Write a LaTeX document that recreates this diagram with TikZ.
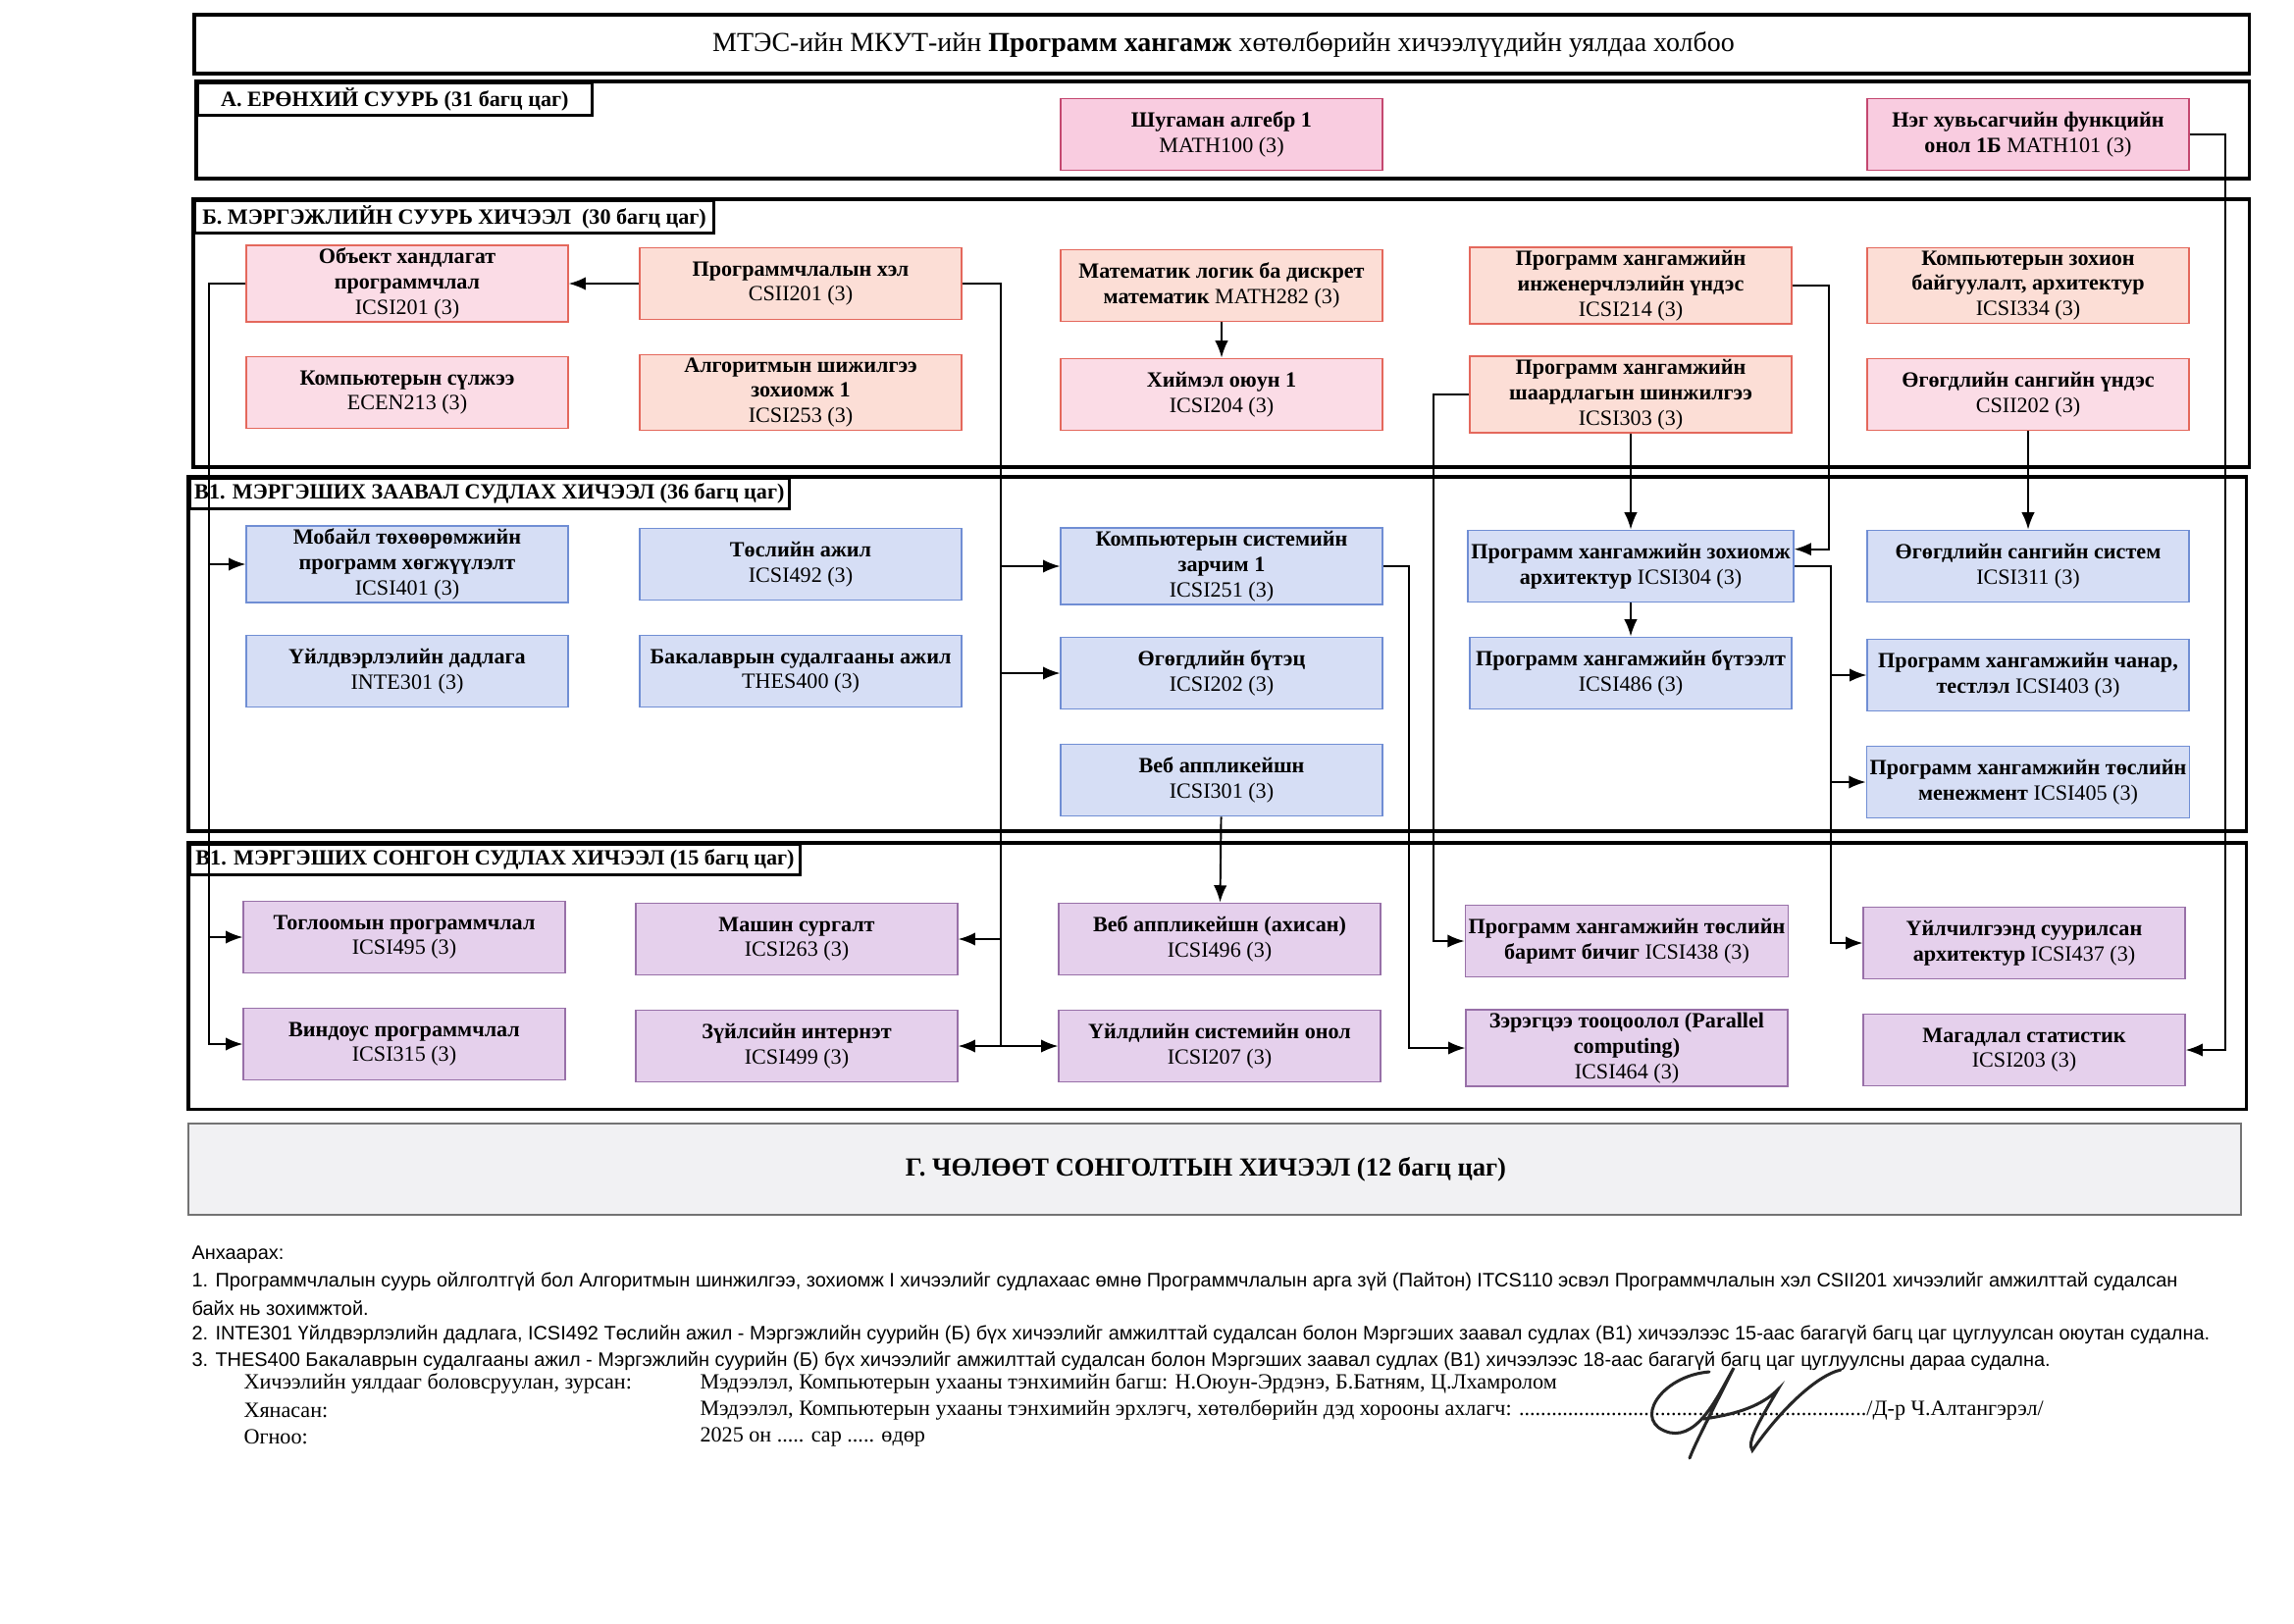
\documentclass[tikz,border=0pt]{standalone}
\usepackage{fontspec}
\setmainfont{Liberation Serif}
\newfontfamily\notefont{Liberation Sans}
\usepackage{xcolor}
\usetikzlibrary{arrows.meta,positioning,calc}
\tikzset{>={Latex[length=2.2mm,width=1.7mm]}}
\definecolor{apink}{RGB}{249,204,224}
\definecolor{aline}{RGB}{196,72,112}
\definecolor{bpink}{RGB}{251,220,230}
\definecolor{bpeach}{RGB}{252,222,214}
\definecolor{bline}{RGB}{228,104,92}
\definecolor{vblue}{RGB}{214,222,245}
\definecolor{vline}{RGB}{112,142,212}
\definecolor{slila}{RGB}{229,208,236}
\definecolor{sline}{RGB}{152,112,168}
\definecolor{ggray}{RGB}{241,241,243}
\tikzset{
  course/.style={draw, line width=0.6pt, minimum width=41.6mm, minimum height=9.3mm,
    inner sep=0.4mm, align=center, font=\fontsize{8}{9.3}\selectfont},
  acourse/.style={course, fill=apink, draw=aline},
  bcourse/.style={course, fill=bpink, draw=bline},
  bcourseo/.style={course, fill=bpeach, draw=bline},
  vcourse/.style={course, fill=vblue, draw=vline},
  scourse/.style={course, fill=slila, draw=sline},
  secframe/.style={draw, line width=1.1pt},
  gframe/.style={draw=black!55, fill=ggray, line width=0.8pt},
  seclabel/.style={draw, line width=1.1pt, fill=white, anchor=north west, minimum height=3.9mm,
    inner sep=0.6mm, font=\bfseries\fontsize{8}{10}\selectfont},
  link/.style={->, line width=0.7pt},
  noteline/.style={anchor=west, inner sep=0pt, font=\notefont\fontsize{7.2}{8}\selectfont},
  signline/.style={anchor=west, inner sep=0pt, font=\fontsize{8}{9}\selectfont},
  sigpen/.style={line width=1.1pt, black!85, line cap=round},
}

\begin{document}
\begin{tikzpicture}[x=0.127mm,y=-0.127mm]
\useasboundingbox[fill=white] (0,0) rectangle (2338,1654);

% frames
\draw[secframe] (198,15) rectangle (2292,75);
\node[font=\fontsize{10.1}{12}\selectfont] (title) at (1247,46) {МТЭС-ийн МКУТ-ийн \textbf{Программ хангамж} хөтөлбөрийн хичээлүүдийн уялдаа холбоо};

\draw[secframe] (200,83) rectangle (2292,182);
\node[seclabel, minimum width=51mm] (labA) at (200,83) {А. ЕРӨНХИЙ СУУРЬ (31 багц цаг)};
\draw[secframe] (197,203) rectangle (2292,476);
\node[seclabel, minimum width=67.2mm] (labB) at (197,203) {Б. МЭРГЭЖЛИЙН СУУРЬ ХИЧЭЭЛ\ \ (30 багц цаг)};
\draw[secframe] (192,486) rectangle (2289,847);
\node[seclabel, minimum width=77mm] (labV) at (192,486) {В1. МЭРГЭШИХ ЗААВАЛ СУДЛАХ ХИЧЭЭЛ (36 багц цаг)};
\draw[secframe] (192,859) rectangle (2289,1130);
\node[seclabel, minimum width=79mm] (labS) at (192,859) {В1. МЭРГЭШИХ СОНГОН СУДЛАХ ХИЧЭЭЛ (15 багц цаг)};
\draw[gframe] (192,1145) rectangle (2284,1238);
\node[font=\bfseries\fontsize{9.6}{12}\selectfont] (labG) at (1229,1192) {Г. ЧӨЛӨӨТ СОНГОЛТЫН ХИЧЭЭЛ (12 багц цаг)};

% A
\node[acourse] (math100) at (1245,137) {\textbf{Шугаман алгебр 1}\\MATH100 (3)};
\node[acourse] (math101) at (2067,137) {\textbf{Нэг хувьсагчийн функцийн}\\\textbf{онол 1Б} MATH101 (3)};

% B
\node[bcourse] (icsi201) at (415,289) {\textbf{Объект хандлагат}\\\textbf{программчлал}\\ICSI201 (3)};
\node[bcourseo] (csii201) at (816,289) {\textbf{Программчлалын хэл}\\CSII201 (3)};
\node[bcourseo] (math282) at (1245,291) {\textbf{Математик логик ба дискрет}\\\textbf{математик} MATH282 (3)};
\node[bcourseo] (icsi214) at (1662,291) {\textbf{Программ хангамжийн}\\\textbf{инженерчлэлийн үндэс}\\ICSI214 (3)};
\node[bcourseo] (icsi334) at (2067,291) {\textbf{Компьютерын зохион}\\\textbf{байгуулалт, архитектур}\\ICSI334 (3)};
\node[bcourse] (ecen213) at (415,400) {\textbf{Компьютерын сүлжээ}\\ECEN213 (3)};
\node[bcourseo] (icsi253) at (816,400) {\textbf{Алгоритмын шижилгээ}\\\textbf{зохиомж 1}\\ICSI253 (3)};
\node[bcourse] (icsi204) at (1245,402) {\textbf{Хиймэл оюун 1}\\ICSI204 (3)};
\node[bcourseo] (icsi303) at (1662,402) {\textbf{Программ хангамжийн}\\\textbf{шаардлагын шинжилгээ}\\ICSI303 (3)};
\node[bcourse] (csii202) at (2067,402) {\textbf{Өгөгдлийн сангийн үндэс}\\CSII202 (3)};

% B1 compulsory
\node[vcourse] (icsi401) at (415,575) {\textbf{Мобайл төхөөрөмжийн}\\\textbf{программ хөгжүүлэлт}\\ICSI401 (3)};
\node[vcourse] (icsi492) at (816,575) {\textbf{Төслийн ажил}\\ICSI492 (3)};
\node[vcourse] (icsi251) at (1245,577) {\textbf{Компьютерын системийн}\\\textbf{зарчим 1}\\ICSI251 (3)};
\node[vcourse] (icsi304) at (1662,577) {\textbf{Программ хангамжийн зохиомж}\\\textbf{архитектур} ICSI304 (3)};
\node[vcourse] (icsi311) at (2067,577) {\textbf{Өгөгдлийн сангийн систем}\\ICSI311 (3)};
\node[vcourse] (inte301) at (415,684) {\textbf{Үйлдвэрлэлийн дадлага}\\INTE301 (3)};
\node[vcourse] (thes400) at (816,684) {\textbf{Бакалаврын судалгааны ажил}\\THES400 (3)};
\node[vcourse] (icsi202) at (1245,686) {\textbf{Өгөгдлийн бүтэц}\\ICSI202 (3)};
\node[vcourse] (icsi486) at (1662,686) {\textbf{Программ хангамжийн бүтээлт}\\ICSI486 (3)};
\node[vcourse] (icsi403) at (2067,688) {\textbf{Программ хангамжийн чанар,}\\\textbf{тестлэл} ICSI403 (3)};
\node[vcourse] (icsi301) at (1245,795) {\textbf{Веб аппликейшн}\\ICSI301 (3)};
\node[vcourse] (icsi405) at (2067,797) {\textbf{Программ хангамжийн төслийн}\\\textbf{менежмент} ICSI405 (3)};

% B1 elective
\node[scourse] (icsi495) at (412,955) {\textbf{Тоглоомын программчлал}\\ICSI495 (3)};
\node[scourse] (icsi263) at (812,957) {\textbf{Машин сургалт}\\ICSI263 (3)};
\node[scourse] (icsi496) at (1243,957) {\textbf{Веб аппликейшн (ахисан)}\\ICSI496 (3)};
\node[scourse] (icsi438) at (1658,959) {\textbf{Программ хангамжийн төслийн}\\\textbf{баримт бичиг} ICSI438 (3)};
\node[scourse] (icsi437) at (2063,961) {\textbf{Үйлчилгээнд суурилсан}\\\textbf{архитектур} ICSI437 (3)};
\node[scourse] (icsi315) at (412,1064) {\textbf{Виндоус программчлал}\\ICSI315 (3)};
\node[scourse] (icsi499) at (812,1066) {\textbf{Зүйлсийн интернэт}\\ICSI499 (3)};
\node[scourse] (icsi207) at (1243,1066) {\textbf{Үйлдлийн системийн онол}\\ICSI207 (3)};
\node[scourse] (icsi464) at (1658,1068) {\textbf{Зэрэгцээ тооцоолол (Parallel}\\\textbf{computing)}\\ICSI464 (3)};
\node[scourse] (icsi203) at (2063,1070) {\textbf{Магадлал статистик}\\ICSI203 (3)};

% links
\draw[link] (csii201.west) -- (icsi201.east);
\draw[link] (icsi201.west) -- ++(-37,0) coordinate (lt) |- (icsi315.west);
\draw[link] (lt |- icsi401.west) -- (icsi401.west);
\draw[link] (lt |- icsi495.west) -- (icsi495.west);
\draw[link] (csii201.east) -- ++(39,0) coordinate (mt) |- (icsi499.east);
\draw[link] (mt |- icsi251.west) -- (icsi251.west);
\draw[link] (mt |- icsi202.west) -- (icsi202.west);
\draw[link] (mt |- icsi263.east) -- (icsi263.east);
\draw[link] (mt |- icsi207.west) -- (icsi207.west);
\draw[link] (math282) -- (icsi204);
\draw[link] (icsi214.east) -- ++(37,0) |- ([yshift=2.2mm]icsi304.east);
\draw[link] (icsi303.west) -- ++(-36,0) |- (icsi438.west);
\draw[link] (icsi303) -- (icsi304);
\draw[link] (icsi304) -- (icsi486);
\draw[link] (icsi304.east) -- ++(37,0) coordinate (rt) |- (icsi437.west);
\draw[link] (rt |- icsi403.west) -- (icsi403.west);
\draw[link] (rt |- icsi405.west) -- (icsi405.west);
\draw[link] (csii202) -- (icsi311);
\draw[link] (math101.east) -- ++(36,0) |- (icsi203.east);
\draw[link] (icsi251.east) -- ++(26,0) |- (icsi464.west);
\draw[link] (icsi301) -- (icsi496);

% notes
\node[noteline] (n0) at (195,1279) {Анхаарах:};
\node[noteline] (n1) at (195,1306) {1. Программчлалын суурь ойлголтгүй бол Алгоритмын шинжилгээ, зохиомж I хичээлийг судлахаас өмнө Программчлалын арга зүй (Пайтон) ITCS110 эсвэл Программчлалын хэл CSII201 хичээлийг амжилттай судалсан};
\node[noteline] (n1b) at (195,1333) {байх нь зохимжтой.};
\node[noteline] (n2) at (195,1360) {2. INTE301 Үйлдвэрлэлийн дадлага, ICSI492 Төслийн ажил - Мэргэжлийн суурийн (Б) бүх хичээлийг амжилттай судалсан болон Мэргэших заавал судлах (В1) хичээлээс 15-аас багагүй багц цаг цуглуулсан оюутан судална.};
\node[noteline] (n3) at (195,1387) {3. THES400 Бакалаврын судалгааны ажил - Мэргэжлийн суурийн (Б) бүх хичээлийг амжилттай судалсан болон Мэргэших заавал судлах (В1) хичээлээс 18-аас багагүй багц цаг цуглуулсны дараа судална.};
\node[signline] (s1) at (248,1410) {Хичээлийн уялдааг боловсруулан, зурсан:};
\node[signline] (s1b) at (713,1410) {Мэдээлэл, Компьютерын ухааны тэнхимийн багш: Н.Оюун-Эрдэнэ, Б.Батням, Ц.Лхамролом};
\node[signline] (s2) at (248,1437) {Хянасан:};
\node[signline] (s2b) at (713,1437) {Мэдээлэл, Компьютерын ухааны тэнхимийн эрхлэгч, хөтөлбөрийн дэд хорооны ахлагч: \hbox to 45mm{\leaders\hbox{.}\hfill}/Д-р Ч.Алтангэрэл/};
\node[signline] (s3) at (248,1464) {Огноо:};
\node[signline] (s3b) at (713,1464) {2025 он ..... сар ..... өдөр};

% signature
\draw[sigpen] (1742,1398) .. controls (1692,1402) and (1662,1450) .. (1702,1460) .. controls (1732,1466) and (1752,1420) .. (1767,1394) .. controls (1744,1440) and (1728,1470) .. (1722,1486);
\draw[sigpen] (1736,1446) .. controls (1780,1440) and (1800,1428) .. (1812,1416) .. controls (1792,1450) and (1780,1470) .. (1786,1478) .. controls (1812,1440) and (1850,1402) .. (1876,1396);
\end{tikzpicture}
\end{document}
